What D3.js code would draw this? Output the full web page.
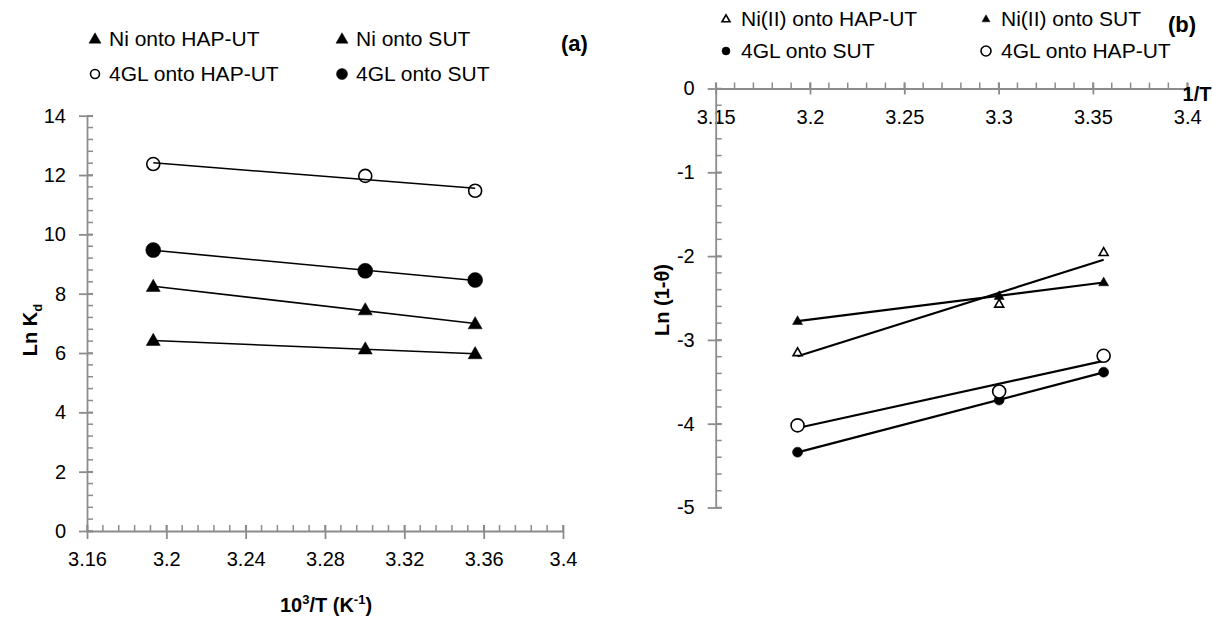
<!DOCTYPE html>
<html><head><meta charset="utf-8">
<script src="https://cdn.jsdelivr.net/npm/d3@7"></script>
<style>
body{margin:0;background:#fff;}
svg text{font-family:"Liberation Sans",Arial,sans-serif;fill:#000;}
</style></head>
<body><svg id="c" width="1212" height="619"></svg>
<script>
// ---- data ----
const invT = [3.1934, 3.3003, 3.3557];
// panel (a): Ln Kd
const aNiHap = [8.24, 7.45, 6.98];
const aNiSut = [6.42, 6.13, 5.97];
const aGlHap = [12.37, 11.97, 11.47];
const aGlSut = [9.47, 8.77, 8.46];
const aXTicks = [3.16, 3.2, 3.24, 3.28, 3.32, 3.36, 3.4];
const aYTicks = [0, 2, 4, 6, 8, 10, 12, 14];
// panel (b): Ln(1-theta)
const bNiHap = [-3.15, -2.571, -1.956];
const bNiSut = [-2.774, -2.476, -2.313];
const bGlSut = [-4.34, -3.718, -3.385];
const bGlHap = [-4.02, -3.615, -3.19];
const bXTicks = [3.15, 3.2, 3.25, 3.3, 3.35, 3.4];
const bYTicks = [0, -1, -2, -3, -4, -5];

const svg = d3.select("#c");
const AX = "#8c8c8c";
const TICKFS = 20, LEGFS = 21;

function fit(xs, ys){
  const n=xs.length, mx=d3.mean(xs), my=d3.mean(ys);
  let sxy=0,sxx=0; for(let i=0;i<n;i++){sxy+=(xs[i]-mx)*(ys[i]-my);sxx+=(xs[i]-mx)**2;}
  const b=sxy/sxx, a=my-b*mx; return x=>a+b*x;
}
function marker(g, type, x, y, size){
  if(type==="tri"||type==="otri"){
    const s=size, h=s*0.87;
    g.append("path").attr("d",`M${x},${y-h*0.6}L${x+s/2},${y+h*0.4}L${x-s/2},${y+h*0.4}Z`)
      .attr("fill", type==="tri"?"#000":"#fff").attr("stroke","#000").attr("stroke-width",type==="tri"?0.5:1.6);
  } else {
    g.append("circle").attr("cx",x).attr("cy",y).attr("r",size/2)
      .attr("fill", type==="dot"?"#000":"#fff").attr("stroke","#000").attr("stroke-width",type==="dot"?0.5:1.6);
  }
}

// ===== Panel (a) =====
{
  const x = d3.scaleLinear().domain([3.16,3.4]).range([87,563]);
  const y = d3.scaleLinear().domain([0,14]).range([531,115.7]);
  const g = svg.append("g");
  const xMinor = d3.range(0,31).map(i=>3.16+i*0.008);
  const yMinor = d3.range(0,36).map(i=>i*0.4);
  xMinor.forEach(v=>g.append("line").attr("x1",x(v)).attr("x2",x(v)).attr("y1",y(0)).attr("y2",y(0)-6).attr("stroke",AX).attr("stroke-width",1.5));
  yMinor.forEach(v=>g.append("line").attr("x1",x(3.16)).attr("x2",x(3.16)+6).attr("y1",y(v)).attr("y2",y(v)).attr("stroke",AX).attr("stroke-width",1.5));
  const xa = g.append("g").attr("transform",`translate(0,${y(0)})`)
    .call(d3.axisBottom(x).tickValues(aXTicks).tickSizeInner(8).tickSizeOuter(0).tickFormat(d=>String(+d.toFixed(2))));
  xa.selectAll(".tick line").attr("y1",-6).attr("y2",8);
  const ya = g.append("g").attr("transform",`translate(${x(3.16)},0)`)
    .call(d3.axisLeft(y).tickValues(aYTicks).tickSizeInner(8).tickSizeOuter(0));
  ya.selectAll(".tick line").attr("x1",6).attr("x2",-8);
  [xa,ya].forEach(s=>{s.select(".domain").attr("stroke",AX).attr("stroke-width",1.8);
    s.selectAll(".tick line").attr("stroke",AX).attr("stroke-width",1.8);
    s.selectAll("text").attr("font-size",TICKFS).attr("fill","#000");});
  xa.selectAll("text").attr("dy","1.2em");
  ya.selectAll("text").attr("dx","-0.5em");

  const series = [[aGlHap,"circ",13],[aGlSut,"dot",15],[aNiHap,"tri",14],[aNiSut,"tri",14]];
  series.forEach(([ys,t,s])=>{
    const f=fit(invT,ys);
    invT.forEach((xv,i)=>marker(g,t,x(xv),y(ys[i]),s));
    g.append("line").attr("x1",x(invT[0])).attr("x2",x(invT[2])).attr("y1",y(f(invT[0]))).attr("y2",y(f(invT[2])))
      .attr("stroke","#000").attr("stroke-width",1.6);
  });
  g.append("text").attr("transform",`translate(37,330) rotate(-90)`).attr("text-anchor","middle")
    .attr("font-size",20).attr("font-weight","bold").html('Ln K<tspan font-size="13" dy="5">d</tspan>');
  g.append("text").attr("x",326).attr("y",612).attr("text-anchor","middle").attr("font-size",20).attr("font-weight","bold")
    .html('10<tspan font-size="13" dy="-8">3</tspan><tspan dy="8">/T (K</tspan><tspan font-size="13" dy="-8">-1</tspan><tspan dy="8">)</tspan>');
  const L=[["tri","Ni onto HAP-UT",95,39],["tri","Ni onto SUT",342,39],["circ","4GL onto HAP-UT",95,74],["dot","4GL onto SUT",342,74]];
  L.forEach(([t,txt,lx,ly])=>{
    marker(g,t,lx,ly,t==="tri"?12:(t==="dot"?11:9));
    g.append("text").attr("x",lx+14).attr("y",ly).attr("dy","0.35em").attr("font-size",LEGFS).text(txt);
  });
  g.append("text").attr("x",561).attr("y",43).attr("dy","0.35em").attr("font-size",22).attr("font-weight","bold").text("(a)");
}

// ===== Panel (b) =====
{
  const x = d3.scaleLinear().domain([3.15,3.4]).range([715.7,1187.2]);
  const y = d3.scaleLinear().domain([-5,0]).range([507.5,88.5]);
  const g = svg.append("g");
  const xMinor = d3.range(0,26).map(i=>3.15+i*0.01);
  const yMinor = d3.range(0,26).map(i=>-i*0.2);
  xMinor.forEach(v=>g.append("line").attr("x1",x(v)).attr("x2",x(v)).attr("y1",y(0)).attr("y2",y(0)-6).attr("stroke",AX).attr("stroke-width",1.5));
  yMinor.forEach(v=>g.append("line").attr("x1",x(3.15)).attr("x2",x(3.15)+6).attr("y1",y(v)).attr("y2",y(v)).attr("stroke",AX).attr("stroke-width",1.5));
  const xa = g.append("g").attr("transform",`translate(0,${y(0)})`)
    .call(d3.axisBottom(x).tickValues(bXTicks).tickSizeInner(8).tickSizeOuter(0).tickFormat(d=>String(+d.toFixed(2))));
  xa.selectAll(".tick line").attr("y1",-6).attr("y2",6);
  const ya = g.append("g").attr("transform",`translate(${x(3.15)},0)`)
    .call(d3.axisLeft(y).tickValues(bYTicks).tickSizeInner(8).tickSizeOuter(0).tickFormat(d=>d===0?"0":String(d)));
  ya.selectAll(".tick line").attr("x1",6).attr("x2",-8);
  [xa,ya].forEach(s=>{s.select(".domain").attr("stroke",AX).attr("stroke-width",1.8);
    s.selectAll(".tick line").attr("stroke",AX).attr("stroke-width",1.8);
    s.selectAll("text").attr("font-size",TICKFS).attr("fill","#000");});
  xa.selectAll("text").attr("dy","1.2em");
  ya.selectAll("text").attr("dx","-0.5em");

  const series = [[bNiHap,"otri",9],[bNiSut,"tri",10],[bGlSut,"dot",10],[bGlHap,"circ",13]];
  series.forEach(([ys,t,s])=>{
    const f=fit(invT,ys);
    g.append("line").attr("x1",x(invT[0])).attr("x2",x(invT[2])).attr("y1",y(f(invT[0]))).attr("y2",y(f(invT[2])))
      .attr("stroke","#000").attr("stroke-width",2.2);
    invT.forEach((xv,i)=>marker(g,t,x(xv),y(ys[i]),s));
  });
  g.append("text").attr("transform",`translate(669,300) rotate(-90)`).attr("text-anchor","middle")
    .attr("font-size",20).attr("font-weight","bold").text("Ln (1-θ)");
  g.append("text").attr("x",1197).attr("y",101).attr("text-anchor","middle").attr("font-size",20).attr("font-weight","bold").text("1/T");
  const L=[["otri","Ni(II) onto HAP-UT",726,19],["tri","Ni(II) onto SUT",986,19],["dot","4GL onto SUT",726,51],["circ","4GL onto HAP-UT",986,51]];
  L.forEach(([t,txt,lx,ly])=>{
    marker(g,t,lx,ly,t==="circ"?10:8);
    g.append("text").attr("x",lx+15).attr("y",ly).attr("dy","0.35em").attr("font-size",LEGFS).text(txt);
  });
  g.append("text").attr("x",1168).attr("y",24).attr("dy","0.35em").attr("font-size",22).attr("font-weight","bold").text("(b)");
}
</script></body></html>
